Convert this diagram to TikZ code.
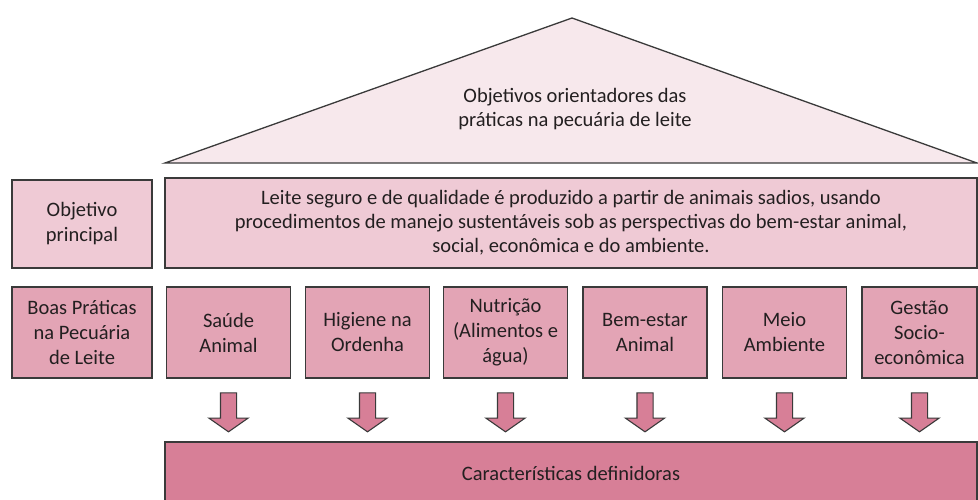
\documentclass[tikz,border=0pt]{standalone}
\usepackage{fontspec}
\setmainfont{Carlito}
\usetikzlibrary{shapes.arrows}
\definecolor{roofpink}{HTML}{F7E8EC}
\definecolor{lightpink}{HTML}{EFCAD5}
\definecolor{midpink}{HTML}{E3A4B5}
\definecolor{darkpink}{HTML}{D77F97}
\definecolor{edgegray}{HTML}{3A3A3A}
\definecolor{textgray}{HTML}{231F20}

\begin{document}
\begin{tikzpicture}[x=1pt,y=-1pt,
  box/.style={draw=edgegray,line width=1.3pt,align=center,inner sep=2pt,
    text=textgray,font=\fontsize{20.5}{25}\selectfont},
  pillar/.style={box,fill=midpink,minimum width=124pt,minimum height=91pt},
  downarrow/.style={single arrow,draw=edgegray,fill=darkpink,line width=1.1pt,
    shape border rotate=270,minimum height=39pt,inner sep=7.5pt,
    single arrow head extend=11.5pt,single arrow tip angle=110}]
\clip (0,0) rectangle (978,499);
\fill[white] (0,0) rectangle (978,499);
% telhado
\draw[edgegray,line width=1.3pt,fill=roofpink] (165,163) -- (572,18) -- (977,163) -- cycle;
\node[text=textgray,align=center,font=\fontsize{20.5}{24}\selectfont] (roof) at (575,109)
  {Objetivos orientadores das\\práticas na pecuária de leite};
% objetivo principal
\node[box,fill=lightpink,minimum width=140pt,minimum height=88pt] (obj) at (82,224)
  {Objetivo\\principal};
\node[box,fill=lightpink,minimum width=812pt,minimum height=90pt,
  font=\fontsize{20.5}{24}\selectfont] (leite) at (571,223)
  {Leite seguro e de qualidade é produzido a partir de animais sadios, usando\\
   procedimentos de manejo sustentáveis sob as perspectivas do bem-estar animal,\\
   social, econômica e do ambiente.};
% boas praticas
\node[box,fill=midpink,minimum width=140pt,minimum height=91pt] (bpl) at (82,332.5)
  {Boas Práticas\\na Pecuária\\de Leite};
\foreach \i/\x/\txt in {1/228.5/{Saúde\\Animal},2/367.5/{Higiene na\\Ordenha},
    3/505.5/{Nutrição\\(Alimentos e\\água)},4/645/{Bem-estar\\Animal},
    5/784.5/{Meio\\Ambiente}}
 {\node[pillar] (p\i) at (\x,332.5) {\txt};
  \node[downarrow] (a\i) at (\x,409.5) {};
 };
\node[pillar,minimum width=115pt] (p6) at (919.5,332.5) {Gestão\\Socio-\\econômica};
\node[downarrow] (a6) at (919.5,409.5) {};
% base
\draw[edgegray,line width=1.3pt,fill=darkpink] (165,515) -- (165,442) -- (977,442) -- (977,515);
\node[text=textgray,font=\fontsize{20.5}{24}\selectfont] (car) at (571,473)
  {Características definidoras};
\end{tikzpicture}
\end{document}
